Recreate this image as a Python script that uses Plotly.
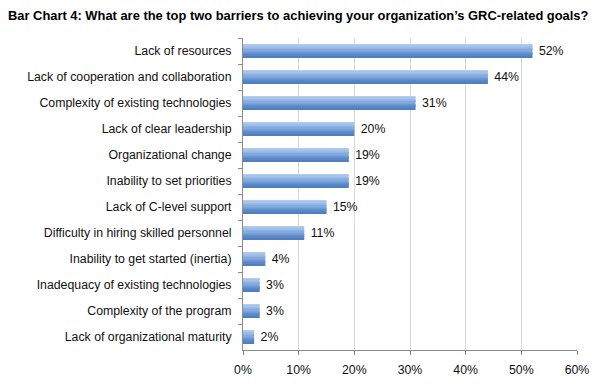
import plotly.graph_objects as go

title = "Bar Chart 4: What are the top two barriers to achieving your organization’s GRC-related goals?"
categories = [
    "Lack of resources",
    "Lack of cooperation and collaboration",
    "Complexity of existing technologies",
    "Lack of clear leadership",
    "Organizational change",
    "Inability to set priorities",
    "Lack of C-level support",
    "Difficulty in hiring skilled personnel",
    "Inability to get started (inertia)",
    "Inadequacy of existing technologies",
    "Complexity of the program",
    "Lack of organizational maturity",
]
values = [52, 44, 31, 20, 19, 19, 15, 11, 4, 3, 3, 2]
x_ticks = [0, 10, 20, 30, 40, 50, 60]
x_tick_labels = ["0%", "10%", "20%", "30%", "40%", "50%", "60%"]

FONT = "Liberation Sans, Arial, sans-serif"
BAR_W = 0.5
N = 10
top_c = (184, 208, 240)
mid_c = (125, 166, 220)
bot_c = (74, 121, 190)


def lerp(a, b, t):
    return tuple(round(a[i] + (b[i] - a[i]) * t) for i in range(3))


fig = go.Figure()
strip = BAR_W / N
for i in range(N):
    t = (i + 0.5) / N
    if t < 0.5:
        c = lerp(top_c, mid_c, t / 0.5)
    else:
        c = lerp(mid_c, bot_c, (t - 0.5) / 0.5)
    fig.add_trace(go.Bar(
        x=values, y=categories, orientation="h",
        width=strip * 1.05, offset=-BAR_W / 2 + i * strip,
        marker=dict(color="rgb(%d,%d,%d)" % c, line=dict(width=0)),
        hoverinfo="skip", showlegend=False,
    ))

# label trace (transparent full bar) carrying the value text
fig.add_trace(go.Bar(
    x=values, y=categories, orientation="h",
    width=BAR_W, offset=-BAR_W / 2,
    marker=dict(color="rgba(0,0,0,0)", line=dict(width=0)),
    text=["\u00a0" + f"{v}%" for v in values], textposition="outside",
    constraintext="none",
    textfont=dict(family=FONT, size=12.3, color="#111111"),
    cliponaxis=False, showlegend=False,
))

fig.update_layout(
    width=600, height=388,
    barmode="overlay",
    paper_bgcolor="white", plot_bgcolor="white",
    margin=dict(l=235, r=31, t=30, b=46),
    font=dict(family=FONT, size=12.3, color="#111111"),
    title=dict(text="<b>" + title + "</b>", x=0.0, xanchor="left",
               y=1 - 7 / 388, yanchor="middle",
               font=dict(family=FONT, size=12.9, color="#000000")),
    xaxis=dict(range=[0, 60], tickvals=x_ticks, ticktext=x_tick_labels,
               showgrid=True, gridcolor="#d9d9d9", gridwidth=1,
               showline=True, linecolor="#8c8c8c", linewidth=1,
               ticks="outside", ticklen=4, tickcolor="#8c8c8c",
               zeroline=False, tickfont=dict(size=12.3, color="#111111"),
               ticklabelstandoff=4),
    yaxis=dict(autorange="reversed", showline=True, linecolor="#8c8c8c",
               linewidth=1, ticks="outside", ticklen=4, tickcolor="#8c8c8c",
               tickson="boundaries", showgrid=False,
               tickfont=dict(size=12.3, color="#111111"),
               ticklabelstandoff=8),
)

fig.write_html("out.html")
